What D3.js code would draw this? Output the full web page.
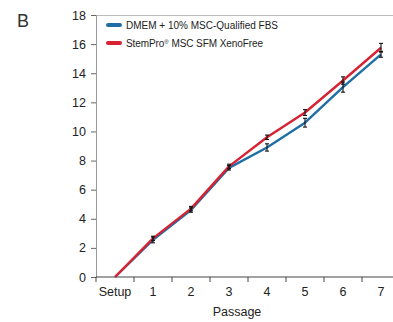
<!DOCTYPE html>
<html>
<head>
<meta charset="utf-8">
<script src="https://cdn.jsdelivr.net/npm/d3@7"></script>
<style>
  body { margin: 0; background: #fff; }
  svg { font-family: "Liberation Sans", Arial, sans-serif; }
</style>
</head>
<body>
<div id="chart"></div>
<script>
// passages and cumulative population doublings
const passages = ["Setup", "1", "2", "3", "4", "5", "6", "7"];
const dmem = [0, 2.55, 4.6, 7.5, 8.9, 10.6, 13.05, 15.3];
const dmemErr = [0, 0.2, 0.15, 0.15, 0.25, 0.3, 0.35, 0.2];
const stempro = [0, 2.65, 4.7, 7.6, 9.6, 11.3, 13.5, 15.75];
const stemproErr = [0, 0.15, 0.15, 0.15, 0.15, 0.2, 0.25, 0.3];
const yTicks = [0, 2, 4, 6, 8, 10, 12, 14, 16, 18];

const series = [
  { name: "DMEM + 10% MSC-Qualified FBS", values: dmem, err: dmemErr, color: "#1f6ea6", len: 152 },
  { name: "StemPro", sup: "®", rest: " MSC SFM XenoFree", values: stempro, err: stemproErr, color: "#d62232", len: 137 }
];

const W = 393, H = 322;
const mLeft = 96, mTop = 15, mBottom = 277;

const svg = d3.select("#chart").append("svg")
  .attr("width", W).attr("height", H);

const x = d3.scaleBand().domain(passages).range([mLeft, mLeft + 38 * 8]);
const y = d3.scaleLinear().domain([0, 18]).range([mBottom, mTop]);

// panel letter
svg.append("text").attr("x", 17).attr("y", 27)
  .attr("font-size", 18).attr("fill", "#333").text("B");

// top border
svg.append("line").attr("x1", mLeft).attr("x2", W)
  .attr("y1", mTop + 0.5).attr("y2", mTop + 0.5)
  .attr("stroke", "#bbb").attr("stroke-width", 1);

// y axis
const yAxis = svg.append("g").attr("transform", `translate(${mLeft},0)`)
  .call(d3.axisLeft(y).tickValues(yTicks).tickSize(5).tickPadding(5));
yAxis.select(".domain").attr("stroke", "#999");
yAxis.selectAll(".tick line").attr("stroke", "#666");
yAxis.selectAll(".tick text").attr("font-size", 12.5).attr("fill", "#222")
  .attr("font-family", "Liberation Sans, Arial, sans-serif");

// x axis: ticks at band edges
const xg = svg.append("g").attr("transform", `translate(0,${mBottom})`);
xg.append("line").attr("x1", mLeft).attr("x2", W)
  .attr("stroke", "#444").attr("stroke-width", 1.2);
xg.selectAll(".edge").data(passages).enter().append("line")
  .attr("x1", (d) => x(d)).attr("x2", (d) => x(d))
  .attr("y1", 0).attr("y2", 5).attr("stroke", "#444");
xg.selectAll(".lab").data(passages).enter().append("text")
  .attr("x", (d) => x(d) + x.bandwidth() / 2).attr("y", 19)
  .attr("text-anchor", "middle").attr("font-size", 12.5).attr("fill", "#222")
  .text((d) => d);

svg.append("text").attr("x", 237).attr("y", 316)
  .attr("text-anchor", "middle").attr("font-size", 12.5).attr("fill", "#222")
  .text("Passage");

const cx = (i) => x(passages[i]) + x.bandwidth() / 2;

const line = d3.line().x((d, i) => cx(i)).y((d) => y(d));

series.forEach((s) => {
  svg.append("path").datum(s.values)
    .attr("d", line).attr("fill", "none")
    .attr("stroke", s.color).attr("stroke-width", 2.4)
    .attr("stroke-linejoin", "round");
});

// error bars
series.forEach((s) => {
  s.values.forEach((v, i) => {
    if (i === 0) return;
    const g = svg.append("g").attr("stroke", "#111").attr("stroke-width", 1.1);
    const x0 = cx(i);
    g.append("line").attr("x1", x0).attr("x2", x0)
      .attr("y1", y(v - s.err[i])).attr("y2", y(v + s.err[i]));
    [v - s.err[i], v + s.err[i]].forEach((e) => {
      g.append("line").attr("x1", x0 - 2).attr("x2", x0 + 2)
        .attr("y1", y(e)).attr("y2", y(e));
    });
  });
});

// legend
const leg = svg.append("g");
series.forEach((s, i) => {
  const ly = 25 + i * 18;
  leg.append("line").attr("x1", 108).attr("x2", 120)
    .attr("y1", ly).attr("y2", ly)
    .attr("stroke", s.color).attr("stroke-width", 4).attr("stroke-linecap", "round");
  const t = leg.append("text").attr("x", 126).attr("y", ly + 4)
    .attr("font-size", 10).attr("fill", "#222")
    .attr("textLength", s.len).attr("lengthAdjust", "spacing");
  if (s.sup) {
    t.append("tspan").text(s.name);
    t.append("tspan").attr("font-size", 6).attr("dy", -3).text(s.sup);
    t.append("tspan").attr("dy", 3).text(s.rest);
  } else {
    t.text(s.name);
  }
});
</script>
</body>
</html>
